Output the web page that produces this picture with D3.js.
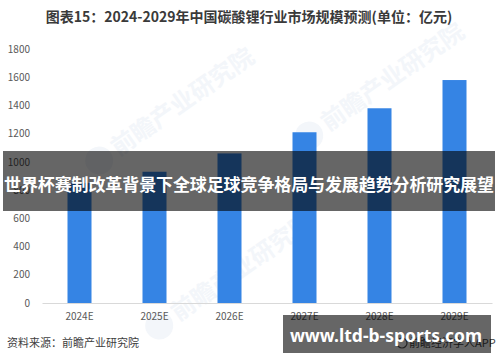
<!DOCTYPE html>
<html><head><meta charset="utf-8">
<script src="https://cdn.jsdelivr.net/npm/d3@7/dist/d3.min.js"></script>
<style>body{margin:0;background:#fff}svg{display:block}</style>
</head><body>
<svg id="c" width="500" height="362"></svg>
<script>
const categories = ["2024E","2025E","2026E","2027E","2028E","2029E"];
const values = [850, 930, 1060, 1210, 1380, 1580];
const yTicks = [0,200,400,600,800,1000,1200,1400,1600,1800];
const title = "图表15：2024-2029年中国碳酸锂行业市场规模预测(单位：亿元)";
const source = "资料来源：前瞻产业研究院";
const banner = "世界杯赛制改革背景下全球足球竞争格局与发展趋势分析研究展望";
const site = "www.ltd-b-sports.com";

const svg = d3.select("#c");
const font = "'Noto Sans CJK SC','Noto Sans',sans-serif";
const x = d3.scaleBand().domain(categories).range([42,492]).paddingInner(0.68).paddingOuter(0.34);
const y = d3.scaleLinear().domain([0,1800]).range([303,49]);

// watermarks
const wm = [[150,125],[360,100],[210,290]];
wm.forEach(([cx,cy])=>{
  const g = svg.append("g").attr("transform",`translate(${cx},${cy}) rotate(-35)`);
  g.append("circle").attr("cx",-62).attr("cy",0).attr("r",14).attr("fill","#f3f6fa");
  g.append("text").attr("x",-44).attr("y",8).attr("font-family",font).attr("font-size",24)
   .attr("font-weight","bold").attr("fill","#f3f6fa").text("前瞻产业研究院");
});

svg.append("text").attr("x",249).attr("y",22).attr("text-anchor","middle")
  .attr("font-family",font).attr("font-size",14).attr("font-weight","bold").attr("fill","#3a3a3a").text(title);

// y axis labels
const ya = svg.append("g").attr("transform","translate(30,0)")
  .call(d3.axisLeft(y).tickValues(yTicks).tickFormat(d3.format("d")).tickSize(0).tickPadding(0));
ya.select(".domain").remove();
ya.selectAll("text").attr("font-family",font).attr("font-size",10).attr("fill","#595959");

// bars
svg.append("g").selectAll("rect").data(values).join("rect")
  .attr("x",(d,i)=>x(categories[i])).attr("width",x.bandwidth())
  .attr("y",d=>y(d)).attr("height",d=>y(0)-y(d)).attr("fill","#3584e4");

// x axis
const xa = svg.append("g").attr("transform","translate(0,303)")
  .call(d3.axisBottom(x).tickSize(0).tickPadding(10));
xa.select(".domain").attr("stroke","#d9d9d9");
xa.selectAll("text").attr("font-family",font).attr("font-size",10).attr("fill","#595959");

svg.append("text").attr("x",7).attr("y",347).attr("font-family",font).attr("font-size",11)
  .attr("fill","#404040").text(source);
svg.append("circle").attr("cx",402).attr("cy",343).attr("r",5).attr("fill","none").attr("stroke","#555").attr("stroke-width",1.2);
svg.append("text").attr("x",409).attr("y",347).attr("font-family",font).attr("font-size",11)
  .attr("fill","#404040").text("前瞻经济学人APP");

// overlays
svg.append("rect").attr("x",3).attr("y",151).attr("width",492).attr("height",60).attr("fill","rgba(0,0,0,0.6)");
svg.append("text").attr("x",249).attr("y",191).attr("text-anchor","middle").attr("font-family",font)
  .attr("font-size",17).attr("font-weight","bold").attr("fill","#fff").attr("textLength",490).text(banner);
svg.append("rect").attr("x",283).attr("y",315).attr("width",208).attr("height",38).attr("fill","rgba(0,0,0,0.6)");
svg.append("text").attr("x",386).attr("y",342).attr("text-anchor","middle").attr("font-family","'Noto Sans',sans-serif")
  .attr("font-size",17.5).attr("font-weight","bold").attr("fill","#fff").text(site);
</script>
</body></html>
